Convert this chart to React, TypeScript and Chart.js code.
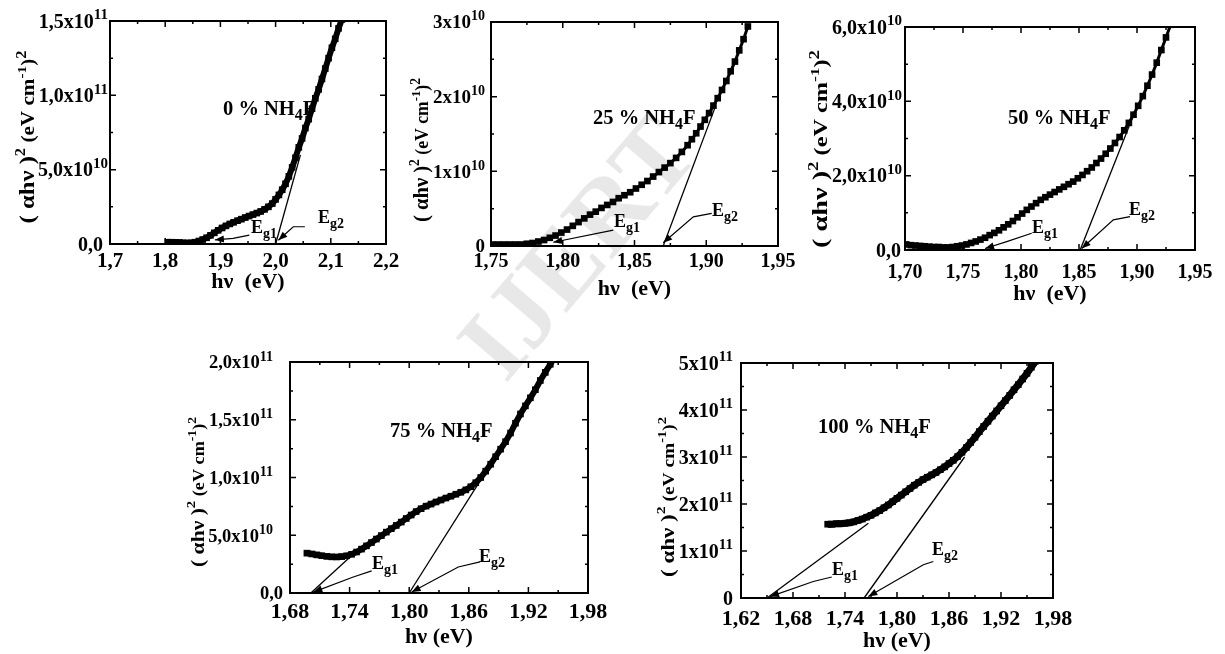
import { useEffect, useRef } from "react";
import { Chart, registerables } from "chart.js";

Chart.register(...registerables);

const W = 1225;
const H = 654;
const FONT = "'Liberation Serif', 'Times New Roman', Times, serif";

// ---------------- Panel 1 : 0 % NH4F  (y in units of 1e10)
const p1X = [1.805, 1.812, 1.819, 1.826, 1.833, 1.840, 1.847, 1.854, 1.861, 1.868, 1.875, 1.882, 1.889, 1.896, 1.903, 1.910, 1.917, 1.924, 1.931, 1.938, 1.945, 1.952, 1.959, 1.966, 1.973, 1.980, 1.987, 1.994, 2.000, 2.006, 2.012, 2.018, 2.024, 2.030, 2.036, 2.042, 2.048, 2.054, 2.060, 2.066, 2.072, 2.078, 2.084, 2.090, 2.096, 2.102, 2.108, 2.114, 2.120, 2.126];
const p1Y = [0.12, 0.12, 0.11, 0.10, 0.08, 0.07, 0.08, 0.12, 0.20, 0.30, 0.42, 0.58, 0.75, 0.92, 1.08, 1.22, 1.35, 1.46, 1.57, 1.67, 1.78, 1.88, 1.98, 2.08, 2.19, 2.33, 2.50, 2.72, 3.00, 3.30, 3.65, 4.05, 4.55, 5.15, 5.80, 6.50, 7.10, 7.80, 8.40, 9.10, 9.80, 10.40, 11.10, 11.80, 12.50, 13.20, 13.80, 14.50, 15.10, 15.80];
const p1XTicks = [1.7, 1.8, 1.9, 2.0, 2.1, 2.2];
const p1XTickLabels = ["1,7", "1,8", "1,9", "2,0", "2,1", "2,2"];
const p1YTicks = [0, 5, 10, 15];
const p1YTickLabels = ["0,0", "5,0x10^{10}", "1,0x10^{11}", "1,5x10^{11}"];
const p1Tangents = [[[2.0, 0], [2.045, 6.0]]];
const p1Arrows = [
  [[1.9524, 0.6], [1.923, 0.38], [1.89, 0.28]],
  [[2.053, 1.16], [2.032, 1.16], [2.005, 0.25]],
];

// ---------------- Panel 2 : 25 % NH4F  (y in units of 1e10)
const p2X = [1.751, 1.755, 1.759, 1.763, 1.767, 1.771, 1.775, 1.779, 1.783, 1.787, 1.791, 1.795, 1.799, 1.803, 1.807, 1.811, 1.815, 1.819, 1.823, 1.827, 1.831, 1.835, 1.839, 1.843, 1.847, 1.851, 1.855, 1.859, 1.863, 1.867, 1.871, 1.875, 1.879, 1.883, 1.887, 1.890, 1.893, 1.896, 1.899, 1.902, 1.905, 1.908, 1.911, 1.914, 1.917, 1.920, 1.923, 1.926, 1.929];
const p2Y = [0.02, 0.02, 0.02, 0.02, 0.02, 0.02, 0.03, 0.04, 0.06, 0.08, 0.11, 0.14, 0.18, 0.22, 0.27, 0.32, 0.37, 0.42, 0.46, 0.51, 0.55, 0.59, 0.64, 0.68, 0.72, 0.77, 0.82, 0.87, 0.93, 0.99, 1.05, 1.11, 1.18, 1.26, 1.35, 1.43, 1.51, 1.60, 1.69, 1.78, 1.88, 1.98, 2.09, 2.21, 2.34, 2.47, 2.62, 2.77, 2.94];
const p2XTicks = [1.75, 1.80, 1.85, 1.90, 1.95];
const p2XTickLabels = ["1,75", "1,80", "1,85", "1,90", "1,95"];
const p2YTicks = [0, 1, 2, 3];
const p2YTickLabels = ["0", "1x10^{10}", "2x10^{10}", "3x10^{10}"];
const p2Tangents = [[[1.870, 0], [1.906, 1.85]]];
const p2Arrows = [
  [[1.8352, 0.213], [1.7934, 0.05]],
  [[1.9038, 0.436], [1.891, 0.39], [1.870, 0.044]],
];

// ---------------- Panel 3 : 50 % NH4F  (y in units of 1e10)
const p3X = [1.701, 1.705, 1.709, 1.713, 1.717, 1.721, 1.725, 1.729, 1.733, 1.737, 1.741, 1.745, 1.749, 1.753, 1.757, 1.761, 1.765, 1.769, 1.773, 1.777, 1.781, 1.785, 1.789, 1.793, 1.797, 1.801, 1.805, 1.809, 1.813, 1.817, 1.821, 1.825, 1.829, 1.833, 1.837, 1.841, 1.845, 1.849, 1.853, 1.857, 1.861, 1.865, 1.869, 1.873, 1.877, 1.881, 1.885, 1.889, 1.893, 1.897, 1.901, 1.905, 1.909, 1.913, 1.917, 1.921, 1.925, 1.929];
const p3Y = [0.15, 0.13, 0.12, 0.11, 0.10, 0.09, 0.08, 0.08, 0.07, 0.07, 0.08, 0.10, 0.12, 0.15, 0.19, 0.23, 0.28, 0.33, 0.40, 0.46, 0.53, 0.61, 0.69, 0.78, 0.88, 0.98, 1.08, 1.17, 1.26, 1.35, 1.42, 1.49, 1.56, 1.63, 1.70, 1.77, 1.84, 1.93, 2.02, 2.12, 2.22, 2.34, 2.46, 2.59, 2.73, 2.88, 3.04, 3.22, 3.42, 3.64, 3.88, 4.14, 4.42, 4.72, 5.04, 5.38, 5.72, 6.06];
const p3XTicks = [1.70, 1.75, 1.80, 1.85, 1.90, 1.95];
const p3XTickLabels = ["1,70", "1,75", "1,80", "1,85", "1,90", "1,95"];
const p3YTicks = [0, 2, 4, 6];
const p3YTickLabels = ["0,0", "2,0x10^{10}", "4,0x10^{10}", "6,0x10^{10}"];
const p3Tangents = [[[1.851, 0], [1.896, 3.55]]];
const p3Arrows = [
  [[1.8092, 0.45], [1.7877, 0.224], [1.769, 0.04]],
  [[1.894, 0.9], [1.8796, 0.81], [1.8523, 0.04]],
];

// ---------------- Panel 4 : 75 % NH4F  (y in units of 1e11)
const p4X = [1.697, 1.702, 1.707, 1.712, 1.717, 1.722, 1.727, 1.732, 1.737, 1.742, 1.747, 1.752, 1.757, 1.762, 1.767, 1.772, 1.777, 1.782, 1.787, 1.792, 1.797, 1.802, 1.807, 1.812, 1.817, 1.822, 1.827, 1.832, 1.837, 1.842, 1.847, 1.852, 1.857, 1.862, 1.867, 1.872, 1.877, 1.882, 1.887, 1.892, 1.897, 1.902, 1.907, 1.912, 1.917, 1.922, 1.927, 1.932, 1.937, 1.942, 1.947];
const p4Y = [0.345, 0.338, 0.330, 0.323, 0.317, 0.313, 0.312, 0.315, 0.322, 0.335, 0.355, 0.380, 0.408, 0.437, 0.467, 0.497, 0.527, 0.557, 0.585, 0.614, 0.645, 0.675, 0.705, 0.730, 0.752, 0.770, 0.788, 0.805, 0.822, 0.838, 0.855, 0.872, 0.893, 0.920, 0.955, 1.000, 1.055, 1.115, 1.180, 1.245, 1.310, 1.385, 1.470, 1.550, 1.620, 1.690, 1.760, 1.840, 1.910, 1.980, 2.050];
const p4XTicks = [1.68, 1.74, 1.80, 1.86, 1.92, 1.98];
const p4XTickLabels = ["1,68", "1,74", "1,80", "1,86", "1,92", "1,98"];
const p4YTicks = [0, 0.5, 1.0, 1.5, 2.0];
const p4YTickLabels = ["0,0", "5,0x10^{10}", "1,0x10^{11}", "1,5x10^{11}", "2,0x10^{11}"];
const p4Tangents = [[[1.701, 0], [1.744, 0.34]], [[1.800, 0], [1.872, 0.98]]];
const p4Arrows = [
  [[1.7622, 0.191], [1.7437, 0.139], [1.7035, 0.008]],
  [[1.8713, 0.269], [1.8494, 0.225], [1.8025, 0.008]],
];

// ---------------- Panel 5 : 100 % NH4F  (y in units of 1e11)
const p5X = [1.720, 1.725, 1.730, 1.735, 1.740, 1.745, 1.750, 1.755, 1.760, 1.765, 1.770, 1.775, 1.780, 1.785, 1.790, 1.795, 1.800, 1.805, 1.810, 1.815, 1.820, 1.825, 1.830, 1.835, 1.840, 1.845, 1.850, 1.855, 1.860, 1.865, 1.870, 1.875, 1.880, 1.885, 1.890, 1.895, 1.900, 1.905, 1.910, 1.915, 1.920, 1.925, 1.930, 1.935, 1.940, 1.945, 1.950, 1.955, 1.960];
const p5Y = [1.57, 1.57, 1.58, 1.58, 1.59, 1.60, 1.62, 1.65, 1.68, 1.72, 1.76, 1.81, 1.86, 1.92, 1.98, 2.05, 2.12, 2.19, 2.26, 2.33, 2.40, 2.46, 2.52, 2.57, 2.62, 2.67, 2.73, 2.79, 2.86, 2.93, 3.01, 3.10, 3.20, 3.31, 3.42, 3.54, 3.65, 3.76, 3.87, 3.98, 4.09, 4.20, 4.31, 4.43, 4.54, 4.66, 4.78, 4.91, 5.04];
const p5XTicks = [1.62, 1.68, 1.74, 1.80, 1.86, 1.92, 1.98];
const p5XTickLabels = ["1,62", "1,68", "1,74", "1,80", "1,86", "1,92", "1,98"];
const p5YTicks = [0, 1, 2, 3, 4, 5];
const p5YTickLabels = ["0", "1x10^{11}", "2x10^{11}", "3x10^{11}", "4x10^{11}", "5x10^{11}"];
const p5Tangents = [[[1.650, 0], [1.767, 1.59]], [[1.762, 0], [1.878, 3.0]]];
const p5Arrows = [
  [[1.7247, 0.446], [1.7034, 0.352], [1.6535, 0.03]],
  [[1.8419, 0.777], [1.8304, 0.707], [1.7669, 0.03]],
];

const sampleLabels = ["0 % NH_{4}F", "25 % NH_{4}F", "50 % NH_{4}F", "75 % NH_{4}F", "100 % NH_{4}F"];
const egLabels = ["E_{g1}", "E_{g2}"];

type Seg = { t: string; s: number; dy?: number };
type Panel = {
  area: { left: number; top: number; right: number; bottom: number };
  xMin: number; xMax: number; yMax: number;
  xTicks: number[]; xTickLabels: string[]; yTicks: number[]; yTickLabels: string[];
  xs: number[]; ys: number[]; lineW: number;
  tangents: number[][][]; arrows: number[][][];
  label: string; labelPos: [number, number];
  egPos: [number, number][];
  xTitle: string; xTitleY: number; xTickY: number; xTickFont: number;
  yTickFont: number; supEnd: number; plainEnd: number;
  yTitleX: number; yTitleCY: number; yTitleLen: number; yTitleFont: number;
};

const PANELS: Panel[] = [
  {
    area: { left: 110, top: 21, right: 386, bottom: 244 }, xMin: 1.7, xMax: 2.2, yMax: 15,
    xTicks: p1XTicks, xTickLabels: p1XTickLabels, yTicks: p1YTicks, yTickLabels: p1YTickLabels,
    xs: p1X, ys: p1Y, lineW: 6, tangents: p1Tangents, arrows: p1Arrows,
    label: sampleLabels[0], labelPos: [223, 115], egPos: [[251, 233], [318, 223]],
    xTitle: "hν  (eV)", xTitleY: 288, xTickY: 267, xTickFont: 21,
    yTickFont: 20, supEnd: 2, plainEnd: 7,
    yTitleX: 34, yTitleCY: 137, yTitleLen: 173, yTitleFont: 21,
  },
  {
    area: { left: 491, top: 22, right: 778, bottom: 246 }, xMin: 1.75, xMax: 1.95, yMax: 3,
    xTicks: p2XTicks, xTickLabels: p2XTickLabels, yTicks: p2YTicks, yTickLabels: p2YTickLabels,
    xs: p2X, ys: p2Y, lineW: 3, tangents: p2Tangents, arrows: p2Arrows,
    label: sampleLabels[1], labelPos: [593, 124], egPos: [[614, 227], [712, 216]],
    xTitle: "hν  (eV)", xTitleY: 295, xTickY: 267, xTickFont: 20,
    yTickFont: 19, supEnd: 6, plainEnd: 6,
    yTitleX: 428, yTitleCY: 150, yTitleLen: 144, yTitleFont: 21,
  },
  {
    area: { left: 905, top: 27, right: 1195, bottom: 250 }, xMin: 1.70, xMax: 1.95, yMax: 6,
    xTicks: p3XTicks, xTickLabels: p3XTickLabels, yTicks: p3YTicks, yTickLabels: p3YTickLabels,
    xs: p3X, ys: p3Y, lineW: 3, tangents: p3Tangents, arrows: p3Arrows,
    label: sampleLabels[2], labelPos: [1008, 124], egPos: [[1032, 233], [1129, 215]],
    xTitle: "hν  (eV)", xTitleY: 300, xTickY: 278, xTickFont: 20,
    yTickFont: 20, supEnd: 3, plainEnd: 4,
    yTitleX: 827, yTitleCY: 149, yTitleLen: 198, yTitleFont: 21,
  },
  {
    area: { left: 290, top: 362, right: 588, bottom: 593 }, xMin: 1.68, xMax: 1.98, yMax: 2,
    xTicks: p4XTicks, xTickLabels: p4XTickLabels, yTicks: p4YTicks, yTickLabels: p4YTickLabels,
    xs: p4X, ys: p4Y, lineW: 6, tangents: p4Tangents, arrows: p4Arrows,
    label: sampleLabels[3], labelPos: [390, 437], egPos: [[372, 569], [479, 562]],
    xTitle: "hν (eV)", xTitleY: 643, xTickY: 618, xTickFont: 22,
    yTickFont: 18.5, supEnd: 17, plainEnd: 7,
    yTitleX: 204, yTitleCY: 492, yTitleLen: 150, yTitleFont: 19,
  },
  {
    area: { left: 741, top: 363, right: 1053, bottom: 598 }, xMin: 1.62, xMax: 1.98, yMax: 5,
    xTicks: p5XTicks, xTickLabels: p5XTickLabels, yTicks: p5YTicks, yTickLabels: p5YTickLabels,
    xs: p5X, ys: p5Y, lineW: 7, tangents: p5Tangents, arrows: p5Arrows,
    label: sampleLabels[4], labelPos: [818, 433], egPos: [[832, 575], [932, 555]],
    xTitle: "hν (eV)", xTitleY: 647, xTickY: 625, xTickFont: 22,
    yTickFont: 20, supEnd: 8, plainEnd: 8,
    yTitleX: 674, yTitleCY: 497, yTitleLen: 160, yTitleFont: 19,
  },
];

function parseRich(s: string, base: number, supRatio = 0.72): Seg[] {
  const out: Seg[] = [];
  const parts = s.split(/(\^\{[^}]*\}|_\{[^}]*\})/);
  for (const part of parts) {
    if (!part) continue;
    if (part.startsWith("^{")) out.push({ t: part.slice(2, -1), s: Math.round(base * supRatio), dy: -base * 0.42 });
    else if (part.startsWith("_{")) out.push({ t: part.slice(2, -1), s: Math.round(base * 0.76), dy: base * 0.26 });
    else out.push({ t: part, s: base });
  }
  return out;
}

function segsWidth(ctx: CanvasRenderingContext2D, segs: Seg[]) {
  let w = 0;
  for (const g of segs) {
    ctx.font = `bold ${g.s}px ${FONT}`;
    w += ctx.measureText(g.t).width;
  }
  return w;
}

function drawSegs(ctx: CanvasRenderingContext2D, segs: Seg[], x: number, y: number) {
  let cx = x;
  ctx.textAlign = "left";
  ctx.textBaseline = "alphabetic";
  for (const g of segs) {
    ctx.font = `bold ${g.s}px ${FONT}`;
    ctx.fillText(g.t, cx, y + (g.dy || 0));
    cx += ctx.measureText(g.t).width;
  }
}

function mids(v: number[]) {
  const r: number[] = [];
  for (let i = 0; i < v.length - 1; i++) r.push((v[i] + v[i + 1]) / 2);
  return r;
}

function drawWatermark(ctx: CanvasRenderingContext2D) {
  ctx.save();
  ctx.translate(583, 252);
  ctx.rotate(-Math.PI / 4 - 0.08);
  ctx.font = `bold 104px ${FONT}`;
  ctx.fillStyle = "rgba(0,0,0,0.09)";
  ctx.textAlign = "center";
  ctx.textBaseline = "middle";
  ctx.fillText("IJERT", 0, 0);
  ctx.restore();
}

function makePlugin(p: Panel, watermark: boolean) {
  return {
    id: "panelDeco",
    beforeDatasetsDraw(chart: any) {
      if (watermark) drawWatermark(chart.ctx);
    },
    afterDraw(chart: any) {
      const ctx: CanvasRenderingContext2D = chart.ctx;
      const xs = chart.scales.x;
      const ys = chart.scales.y;
      const { left, top, right, bottom } = chart.chartArea;
      ctx.save();
      ctx.strokeStyle = "#000";
      ctx.fillStyle = "#000";

      // frame
      ctx.lineWidth = 2;
      ctx.strokeRect(left, top, right - left, bottom - top);

      // ticks (inward, all four sides)
      ctx.lineWidth = 1.5;
      ctx.beginPath();
      const tx = (vals: number[], len: number) => {
        for (const v of vals) {
          const px = xs.getPixelForValue(v);
          ctx.moveTo(px, bottom); ctx.lineTo(px, bottom - len);
          ctx.moveTo(px, top); ctx.lineTo(px, top + len);
        }
      };
      const ty = (vals: number[], len: number) => {
        for (const v of vals) {
          const py = ys.getPixelForValue(v);
          ctx.moveTo(left, py); ctx.lineTo(left + len, py);
          ctx.moveTo(right, py); ctx.lineTo(right - len, py);
        }
      };
      tx(p.xTicks, 6); tx(mids(p.xTicks), 3);
      ty(p.yTicks, 6); ty(mids(p.yTicks), 3);
      ctx.stroke();

      // x tick labels
      p.xTicks.forEach((v, i) => {
        const segs = parseRich(p.xTickLabels[i], p.xTickFont);
        const w = segsWidth(ctx, segs);
        drawSegs(ctx, segs, xs.getPixelForValue(v) - w / 2, p.xTickY);
      });

      // y tick labels
      p.yTicks.forEach((v, i) => {
        const lab = p.yTickLabels[i];
        const segs = parseRich(lab, p.yTickFont, 0.74);
        const w = segsWidth(ctx, segs);
        const end = lab.includes("^") ? left - p.supEnd : left - p.plainEnd;
        drawSegs(ctx, segs, end - w, ys.getPixelForValue(v) + p.yTickFont * 0.34);
      });

      // x title
      {
        const segs = parseRich(p.xTitle, 22);
        const w = segsWidth(ctx, segs);
        drawSegs(ctx, segs, (left + right) / 2 - w / 2, p.xTitleY);
      }

      // y title (rotated, stretched along its length)
      {
        const f = p.yTitleFont;
        const segs: Seg[] = [
          { t: "( αhν )", s: f },
          { t: "2", s: Math.round(f * 0.68), dy: -f * 0.45 },
          { t: " (eV cm", s: Math.round(f * 0.85) },
          { t: "-1", s: Math.round(f * 0.62), dy: -f * 0.4 },
          { t: ")", s: Math.round(f * 0.85) },
          { t: "2", s: Math.round(f * 0.65), dy: -f * 0.4 },
        ];
        const w = segsWidth(ctx, segs);
        const k = p.yTitleLen / w;
        ctx.save();
        ctx.translate(p.yTitleX, p.yTitleCY);
        ctx.rotate(-Math.PI / 2);
        ctx.scale(k, 1);
        drawSegs(ctx, segs, -w / 2, 0);
        ctx.restore();
      }

      // sample label
      drawSegs(ctx, parseRich(p.label, 20.5), p.labelPos[0], p.labelPos[1]);

      // Eg labels
      p.egPos.forEach((pos, i) => drawSegs(ctx, parseRich(egLabels[i], 18), pos[0], pos[1]));

      // arrows
      ctx.lineWidth = 1.2;
      for (const a of p.arrows) {
        const pts = a.map(([x, y]) => [xs.getPixelForValue(x), ys.getPixelForValue(y)]);
        ctx.beginPath();
        ctx.moveTo(pts[0][0], pts[0][1]);
        for (let i = 1; i < pts.length; i++) ctx.lineTo(pts[i][0], pts[i][1]);
        ctx.stroke();
        const [x1, y1] = pts[pts.length - 2];
        const [x2, y2] = pts[pts.length - 1];
        const ang = Math.atan2(y2 - y1, x2 - x1);
        const L = 9, Wd = 3.5;
        const c = Math.cos(ang), s = Math.sin(ang);
        ctx.beginPath();
        ctx.moveTo(x2, y2);
        ctx.lineTo(x2 - L * c + Wd * s, y2 - L * s - Wd * c);
        ctx.lineTo(x2 - L * c - Wd * s, y2 - L * s + Wd * c);
        ctx.closePath();
        ctx.fill();
      }
      ctx.restore();
    },
  };
}

function buildConfig(p: Panel, watermark: boolean): any {
  const n = Math.min(p.xs.length, p.ys.length);
  const pts: { x: number; y: number }[] = [];
  for (let i = 0; i < n; i++) pts.push({ x: p.xs[i], y: p.ys[i] });
  const datasets: any[] = [
    {
      data: pts,
      showLine: true,
      borderColor: "#000",
      borderWidth: p.lineW,
      backgroundColor: "#000",
      pointBackgroundColor: "#000",
      pointBorderColor: "#000",
      pointBorderWidth: 0,
      pointStyle: "rect",
      pointRadius: 4.7,
      tension: 0,
      clip: 1,
    },
  ];
  for (const t of p.tangents) {
    datasets.push({
      data: t.map(([x, y]) => ({ x, y })),
      showLine: true,
      borderColor: "#000",
      borderWidth: 1.3,
      pointRadius: 0,
      clip: 1,
    });
  }
  return {
    type: "scatter",
    data: { datasets },
    options: {
      responsive: false,
      animation: false,
      devicePixelRatio: 1,
      events: [],
      layout: {
        padding: { left: p.area.left, top: p.area.top, right: W - p.area.right, bottom: H - p.area.bottom },
      },
      plugins: { legend: { display: false }, tooltip: { enabled: false } },
      scales: {
        x: { type: "linear", min: p.xMin, max: p.xMax, display: false },
        y: { type: "linear", min: 0, max: p.yMax, display: false },
      },
    },
    plugins: [makePlugin(p, watermark)],
  };
}

export default function App() {
  const refs = useRef<(HTMLCanvasElement | null)[]>([]);
  useEffect(() => {
    const charts = PANELS.map((p, i) => new Chart(refs.current[i] as HTMLCanvasElement, buildConfig(p, i === 0)));
    return () => charts.forEach((c) => c.destroy());
  }, []);
  return (
    <div style={{ position: "absolute", left: 0, top: 0, width: W, height: H, background: "#fff", overflow: "hidden" }}>
      {PANELS.map((_, i) => (
        <canvas
          key={i}
          ref={(el) => {
            refs.current[i] = el;
          }}
          width={W}
          height={H}
          style={{ position: "absolute", left: 0, top: 0, width: W, height: H }}
        />
      ))}
    </div>
  );
}
